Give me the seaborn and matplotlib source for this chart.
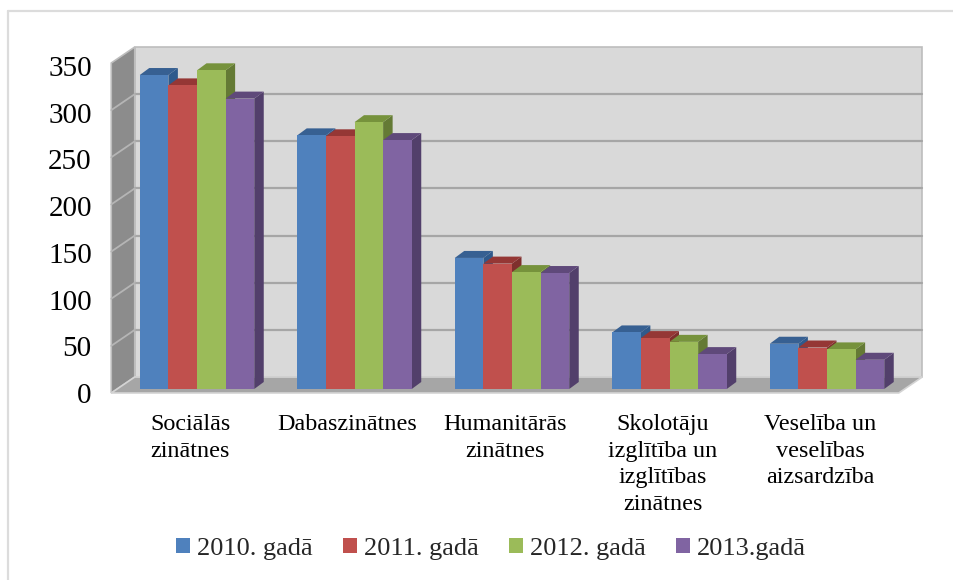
import numpy as np
import pandas as pd
import matplotlib
matplotlib.use('Agg')
import matplotlib.pyplot as plt
import seaborn as sns
from matplotlib.patches import Polygon
from matplotlib.transforms import Affine2D

# values
categories = ['Sociālās\nzinātnes', 'Dabaszinātnes', 'Humanitārās\nzinātnes',
              'Skolotāju\nizglītība un\nizglītības\nzinātnes',
              'Veselība un\nveselības\naizsardzība']
years = ['2010. gadā', '2011. gadā', '2012. gadā', '2013.gadā']
v2010 = [333, 269, 139, 60, 48]
v2011 = [322, 268, 133, 54, 44]
v2012 = [338, 283, 124, 50, 42]
v2013 = [308, 264, 123, 37, 31]
y_ticks = [0, 50, 100, 150, 200, 250, 300, 350]

colors = ['#4f81bd', '#c0504d', '#9bbb59', '#8064a2']
top_colors = ['#376092', '#953735', '#76923c', '#5f497a']
side_colors = ['#2f5a8c', '#7f2f2d', '#647a35', '#523f6b']

sns.set_style('white')
plt.rcParams['font.family'] = ['Liberation Serif', 'DejaVu Serif']

W, H = 954, 580
fig = plt.figure(figsize=(W / 100, H / 100), dpi=100)

# bar plane
ax = fig.add_axes([118.25 / W, (H - 389) / H, 787.5 / W, 330 / H])
# front edge of the box, carries the labels
ax_front = fig.add_axes([111.25 / W, (H - 393) / H, 787.5 / W, 327 / H], zorder=-1)

df = pd.DataFrame({'cat': categories, years[0]: v2010, years[1]: v2011,
                   years[2]: v2012, years[3]: v2013})
long_df = df.melt(id_vars='cat', var_name='year', value_name='value')

sns.barplot(data=long_df, x='cat', y='value', hue='year', palette=colors,
            width=0.727, gap=0, saturation=1, linewidth=0, ax=ax, legend=True)
ax.set_xlim(-0.5, 4.5)
ax.set_ylim(0, 350)
ax.set_xlabel('')
ax.set_ylabel('')
ax.set_xticks([])
ax.set_yticks([])
ax.patch.set_visible(False)
sns.despine(ax=ax, left=True, bottom=True)

# offsets in pixels from the bar plane
back = Affine2D().translate(16.5, 12)
front = Affine2D().translate(-7, -4)
bar_dx, bar_dy = 9.5, 7


def to_px(x, y, shift=None):
    p = ax.transData.transform((x, y))
    if shift is not None:
        p = shift.transform(p)
    return p


def face(points, color, zorder, ec='none', lw=0):
    poly = Polygon(points, closed=True, facecolor=color, edgecolor=ec, linewidth=lw,
                   transform=None, zorder=zorder, clip_on=False)
    poly.set_transform(Affine2D())
    ax.add_patch(poly)


x0, x1 = ax.get_xlim()
y0, y1 = ax.get_ylim()

# back wall, side wall, floor
face([to_px(x0, y0, back), to_px(x1, y0, back), to_px(x1, y1, back), to_px(x0, y1, back)],
     '#d9d9d9', 0.1, ec='#bdbdbd', lw=1.2)
face([to_px(x0, y0, front), to_px(x0, y0, back), to_px(x0, y1, back), to_px(x0, y1, front)],
     '#8c8c8c', 0.2, ec='#bdbdbd', lw=1.2)
face([to_px(x0, y0, front), to_px(x1, y0, front), to_px(x1, y0, back), to_px(x0, y0, back)],
     '#a6a6a6', 0.2, ec='#d4d4d4', lw=1.2)

for t in y_ticks[1:-1]:
    pa, pb = to_px(x0, t, back), to_px(x1, t, back)
    ax.plot([pa[0], pb[0]], [pa[1], pb[1]], color='#a6a6a6', lw=1.6,
            transform=Affine2D(), zorder=0.3, clip_on=False)
    pc = to_px(x0, t, front)
    ax.plot([pc[0], pa[0]], [pc[1], pa[1]], color='#b5b5b5', lw=1.3,
            transform=Affine2D(), zorder=0.3, clip_on=False)

# sides and tops of the bars, from the bars seaborn drew
bars = [p for c in ax.containers for p in c]
n_cat = len(categories)
for i, bar in enumerate(bars):
    hue_i = i // n_cat
    xa, xb = bar.get_x(), bar.get_x() + bar.get_width()
    h = bar.get_height()
    z = 1 + (i % n_cat) * 10 + hue_i
    a, b, c = to_px(xa, h), to_px(xb, h), to_px(xb, 0)
    shift = np.array([bar_dx, bar_dy])
    face([b, c, c + shift, b + shift], side_colors[hue_i], z)
    face([a, b, b + shift, a + shift], top_colors[hue_i], z)
    bar.set_zorder(z + 0.5)

# labels on the front edge
ax_front.set_xlim(-0.5, 4.5)
ax_front.set_ylim(0, 350)
ax_front.set_xticks(range(n_cat))
ax_front.set_xticklabels(categories, fontsize=17.4, linespacing=1.36)
ax_front.set_yticks(y_ticks)
ax_front.set_yticklabels([str(t) for t in y_ticks], fontsize=21)
ax_front.tick_params(axis='x', length=0, pad=15, colors='black')
ax_front.tick_params(axis='y', length=0, pad=14, colors='black')
ax_front.patch.set_visible(False)
sns.despine(ax=ax_front, left=True, bottom=True)

# legend
handles, labels = ax.get_legend_handles_labels()
ax.legend_.remove()
fig.legend(handles, labels, loc='center', bbox_to_anchor=(491 / W, (H - 549) / H), ncol=4,
           frameon=False, fontsize=19, handlelength=0.53, handleheight=0.53,
           handletextpad=0.27, columnspacing=1.15)

# faint outline of the chart area
fig.add_artist(plt.Line2D([8 / W, 8 / W], [0, (H - 11) / H], color='#dcdcdc', lw=1.6))
fig.add_artist(plt.Line2D([8 / W, 1], [(H - 11) / H, (H - 11) / H], color='#dcdcdc', lw=1.6))

fig.savefig('out.png', dpi=100)
